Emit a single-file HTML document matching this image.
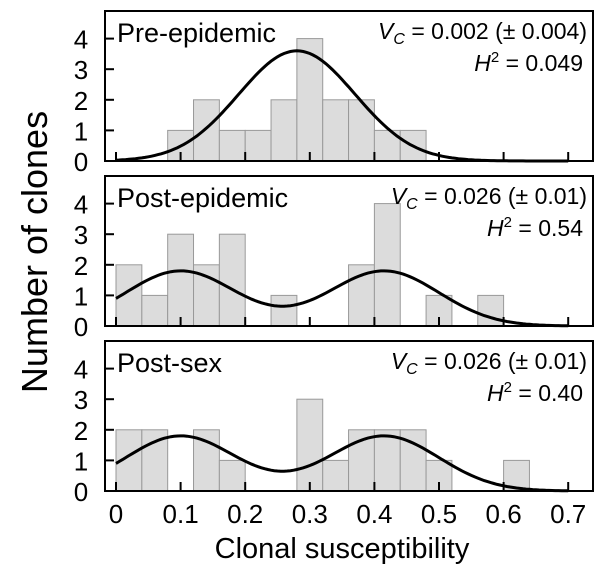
<!DOCTYPE html>
<html><head><meta charset="utf-8"><style>
html,body{margin:0;padding:0;background:#fff;}
svg{display:block;font-family:"Liberation Sans",Arial,sans-serif;}
</style></head><body>
<svg id="chart" width="606" height="570" viewBox="0 0 606 570">
<text x="47" y="252" font-size="36" text-anchor="middle" transform="rotate(-90 47 252)">Number of clones</text>
<text x="342" y="558" font-size="29" text-anchor="middle">Clonal susceptibility</text>
</svg>
<script>
const binWidth = 0.04;
const panelNames = ["Pre-epidemic","Post-epidemic","Post-sex"];
const vcLabels = ["0.002 (\u00b1 0.004)","0.026 (\u00b1 0.01)","0.026 (\u00b1 0.01)"];
const h2Labels = ["0.049","0.54","0.40"];
const binStarts1 = [0.08,0.12,0.16,0.20,0.24,0.28,0.32,0.36,0.40,0.44];
const counts1 = [1,2,1,1,2,4,2,2,1,1];
const binStarts2 = [0,0.04,0.08,0.12,0.16,0.24,0.36,0.40,0.48,0.56];
const counts2 = [2,1,3,2,3,1,2,4,1,1];
const binStarts3 = [0,0.04,0.12,0.16,0.28,0.32,0.36,0.40,0.44,0.48,0.60];
const counts3 = [2,2,2,1,3,1,2,2,2,1,1];
const curveMeans1 = [0.28]; const curveAmps1 = [3.6]; const curveSd1 = 0.09;
const curveMeans2 = [0.1,0.415]; const curveAmps2 = [1.8,1.8]; const curveSd2 = 0.085;
const curveMeans3 = [0.1,0.415]; const curveAmps3 = [1.8,1.8]; const curveSd3 = 0.085;
const xTicks = [0,0.1,0.2,0.3,0.4,0.5,0.6,0.7];
const yTicks = [0,1,2,3,4];

const NS="http://www.w3.org/2000/svg";
const svg=document.getElementById('chart');
const boxL=105, boxR=593, x0px=116, pxPer=646, unit=30.6;
const tops=[11,176,341], bottoms=[161,326,491];
const X=v=>x0px+v*pxPer;
function mk(tag,attrs,parent){const e=document.createElementNS(NS,tag);for(const k in attrs)e.setAttribute(k,attrs[k]);(parent||svg).appendChild(e);return e;}
const panels=[[binStarts1,counts1,curveMeans1,curveAmps1,curveSd1],[binStarts2,counts2,curveMeans2,curveAmps2,curveSd2],[binStarts3,counts3,curveMeans3,curveAmps3,curveSd3]];
panels.forEach((p,i)=>{
  const g=mk('g',{});
  
  
  const base=bottoms[i], Y=v=>base-v*unit;
  p[0].forEach((s,j)=>{
    const r=mk('rect',{x:X(s),y:Y(p[1][j]),width:binWidth*pxPer,height:p[1][j]*unit,fill:'#dcdcdc',stroke:'#999','stroke-width':1},g);
    
    
  });
  let d='';
  for(let v=0;v<=0.7001;v+=0.005){let y=0;p[2].forEach((m,k)=>{y+=p[3][k]*Math.exp(-((v-m)**2)/(2*p[4]*p[4]));});d+=(d?'L':'M')+X(v).toFixed(1)+','+Y(y).toFixed(1);}
  const c=mk('path',{d:d,fill:'none',stroke:'#000','stroke-width':3},g);
  
  
  const b=mk('rect',{x:boxL,y:tops[i],width:boxR-boxL,height:base-tops[i],fill:'none',stroke:'#000','stroke-width':2},g);
  
  
  yTicks.forEach(t=>{
    if(t>0){const l=mk('line',{x1:boxL,x2:boxL+9,y1:Y(t),y2:Y(t),stroke:'#000','stroke-width':2},g);
    
    }
    const tx=mk('text',{x:81,y:Y(t)+10,'font-size':26,'text-anchor':'middle'},g);tx.textContent=t;
    
    
  });
  xTicks.forEach(t=>{const l=mk('line',{x1:X(t),x2:X(t),y1:base,y2:base-9,stroke:'#000','stroke-width':2},g);
    
    });
  const nm=mk('text',{x:117,y:tops[i]+31,'font-size':27},g);nm.textContent=panelNames[i];
  
  
  const vc=mk('text',{x:587,y:tops[i]+28,'font-size':23,'text-anchor':'end'},g);
  vc.innerHTML='<tspan font-style="italic">V</tspan><tspan font-style="italic" font-size="16" dy="5">C</tspan><tspan dy="-5"> = '+vcLabels[i]+'</tspan>';
  
  
  const h=mk('text',{x:583,y:tops[i]+60,'font-size':23,'text-anchor':'end'},g);
  h.innerHTML='<tspan font-style="italic">H</tspan><tspan font-size="15" dy="-9">2</tspan><tspan dy="9"> = '+h2Labels[i]+'</tspan>';
  
  
});
xTicks.forEach(t=>{const tx=mk('text',{x:X(t),y:523,'font-size':26,'text-anchor':'middle'});tx.textContent=t;
  
  });
</script>
</body></html>
